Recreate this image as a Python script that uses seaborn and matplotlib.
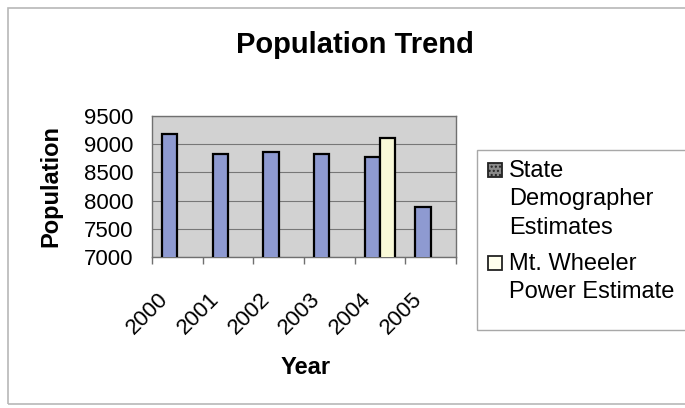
import matplotlib
matplotlib.use("Agg")
import matplotlib.pyplot as plt
import matplotlib.transforms as mtransforms
from matplotlib.patches import Rectangle
import seaborn as sns
import pandas as pd
import numpy as np

# values
years = ["2000", "2001", "2002", "2003", "2004", "2005"]
state_estimates = [9175, 8825, 8855, 8830, 8780, 7880]
wheeler_years = ["2004"]
wheeler_estimates = [9105]
series_names = ["State Demographer Estimates", "Mt. Wheeler Power Estimate"]
legend_lines = [["State", "Demographer", "Estimates"], ["Mt. Wheeler", "Power Estimate"]]
y_ticks = [7000, 7500, 8000, 8500, 9000, 9500]

df = pd.concat([
    pd.DataFrame({"Year": years, "Population": state_estimates, "Series": series_names[0]}),
    pd.DataFrame({"Year": wheeler_years, "Population": wheeler_estimates, "Series": series_names[1]}),
], ignore_index=True)

sns.set_theme(style="white")
plt.rcParams["font.family"] = ["Liberation Sans", "DejaVu Sans"]
plt.rcParams["text.color"] = "black"
plt.rcParams["xtick.color"] = "black"
plt.rcParams["ytick.color"] = "black"

W, H = 685, 408
fig = plt.figure(figsize=(W / 100, H / 100), dpi=100)
ax = fig.add_axes([152 / W, 1 - 257 / H, (456 - 152) / W, (257 - 116) / H])
ax.set_facecolor("#d2d2d2")

sns.barplot(data=df, x="Year", y="Population", hue="Series", order=years,
            hue_order=series_names, palette=["#8393dc", "#ffffd2"], width=0.6,
            edgecolor="black", linewidth=1.6, legend=False, ax=ax, zorder=3)

ax.set_ylim(7000, 9500)
ax.set_yticks(y_ticks)
ax.set_xlim(-0.5, len(years) - 0.5)
ax.yaxis.grid(True, color="#777777", linewidth=0.8)
ax.set_axisbelow(True)
for s in ax.spines.values():
    s.set_color("#707070")
    s.set_linewidth(1.0)

ax.set_xlabel("")
ax.set_ylabel("")
ax.tick_params(axis="y", labelsize=16, length=0, pad=13.5, labelcolor="black")
ax.set_xticks(np.arange(-0.5, len(years), 1), minor=True)
ax.tick_params(axis="x", which="minor", bottom=True, length=5, color="#707070", width=1)
ax.tick_params(axis="x", which="major", length=0, labelsize=16, pad=28, labelcolor="black")
offset = mtransforms.ScaledTranslation(-12 / 100, 0, fig.dpi_scale_trans)
for lbl in ax.get_xticklabels():
    lbl.set_rotation(45)
    lbl.set_ha("right")
    lbl.set_va("center")
    lbl.set_rotation_mode("anchor")
    lbl.set_transform(lbl.get_transform() + offset)

# titles
fig.text(355 / W, 1 - 45 / H, "Population Trend", fontsize=21, weight="bold",
         ha="center", va="center")
fig.text(51 / W, 1 - 186 / H, "Population", fontsize=17, weight="bold",
         rotation=90, ha="center", va="center")
fig.text(306 / W, 1 - 367 / H, "Year", fontsize=17, weight="bold",
         ha="center", va="center")

# outer chart frame and legend box
fig.patches.append(Rectangle((8 / W, 4 / H), 1.0, 1 - 12 / H, transform=fig.transFigure,
                             fill=False, edgecolor="#b8b8b8", linewidth=1.2))
fig.patches.append(Rectangle((477 / W, 1 - 330 / H), 1.0, 180 / H, transform=fig.transFigure,
                             fill=False, edgecolor="#a8a8a8", linewidth=1.0))

# legend entries
handle_styles = [dict(facecolor="#8a8a8a", hatch="....", edgecolor="#222222"),
                 dict(facecolor="#ffffee", edgecolor="#222222")]
handle_tops = [163, 256]
first_baselines = [177, 270]
for lines, style, top, base in zip(legend_lines, handle_styles, handle_tops, first_baselines):
    fig.patches.append(Rectangle((488 / W, 1 - (top + 14) / H), 14 / W, 14 / H,
                                 transform=fig.transFigure, linewidth=1.3, **style))
    for i, line in enumerate(lines):
        fig.text(509 / W, 1 - (base + 28.5 * i) / H, line, fontsize=17,
                 ha="left", va="baseline")

fig.savefig("out.png", dpi=100)
